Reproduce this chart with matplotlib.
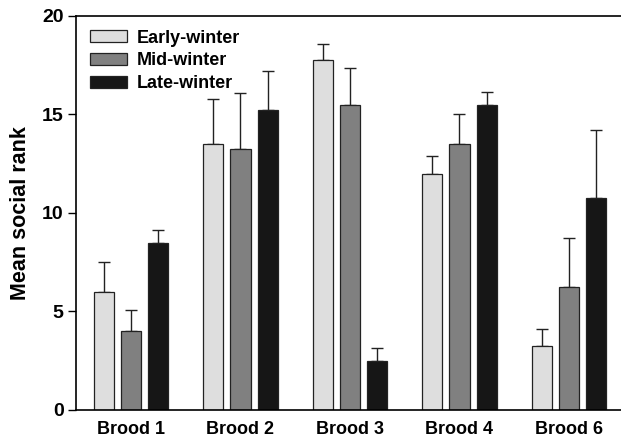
import numpy as np
import matplotlib.pyplot as plt

plt.rcParams['font.family'] = ['Liberation Sans', 'DejaVu Sans']
plt.rcParams['font.weight'] = 'bold'

groups = ["Brood 1", "Brood 2", "Brood 3", "Brood 4", "Brood 6"]
periods = ["Early-winter", "Mid-winter", "Late-winter"]

early = [6.0, 13.5, 17.75, 12.0, 3.25]
mid = [4.0, 13.25, 15.5, 13.5, 6.25]
late = [8.5, 15.25, 2.5, 15.5, 10.75]

early_err = [1.5, 2.3, 0.85, 0.9, 0.85]
mid_err = [1.1, 2.85, 1.85, 1.55, 2.5]
late_err = [0.65, 1.95, 0.65, 0.65, 3.45]

colors = ["#dedede", "#808080", "#161616"]

fig = plt.figure(figsize=(6.21, 4.37), dpi=100)
ax = fig.add_axes([0.1224, 0.0618, 0.8776, 0.9016])

x = np.arange(len(groups))
width = 0.183
offset = 0.247

for k, (vals, errs) in enumerate([(early, early_err), (mid, mid_err), (late, late_err)]):
    pos = x + (k - 1) * offset
    ax.bar(pos, vals, width, color=colors[k], edgecolor="#222222", linewidth=0.9,
           label=periods[k], zorder=2)
    ax.errorbar(pos, vals, yerr=[np.zeros(len(vals)), errs], fmt="none",
                ecolor="#222222", elinewidth=1.0, capsize=4.3, capthick=1.0, zorder=1)

ax.set_xlim(-0.502, 4.475)
ax.set_ylim(0, 20)
ax.set_yticks([0, 5, 10, 15, 20])
ax.set_xticks(x)
ax.set_xticklabels(groups, fontsize=13, fontweight="bold")
ax.tick_params(axis="x", length=0, pad=8)
ax.tick_params(axis="y", direction="out", length=6, width=1, labelsize=14, pad=3)
for lab in ax.get_yticklabels():
    lab.set_fontweight("bold")

ax.set_ylabel("Mean social rank", fontsize=15.5, fontweight="bold", labelpad=8)

ax.spines["right"].set_visible(False)
for s in ["left", "bottom", "top"]:
    ax.spines[s].set_linewidth(1.2)

ax.legend(loc="upper left", frameon=False, handlelength=2.1,
          handleheight=0.66, handletextpad=0.5, labelspacing=0.32,
          borderaxespad=0.45, borderpad=0.3,
          prop={"weight": "bold", "size": 13})

fig.savefig("out.png", dpi=100)
